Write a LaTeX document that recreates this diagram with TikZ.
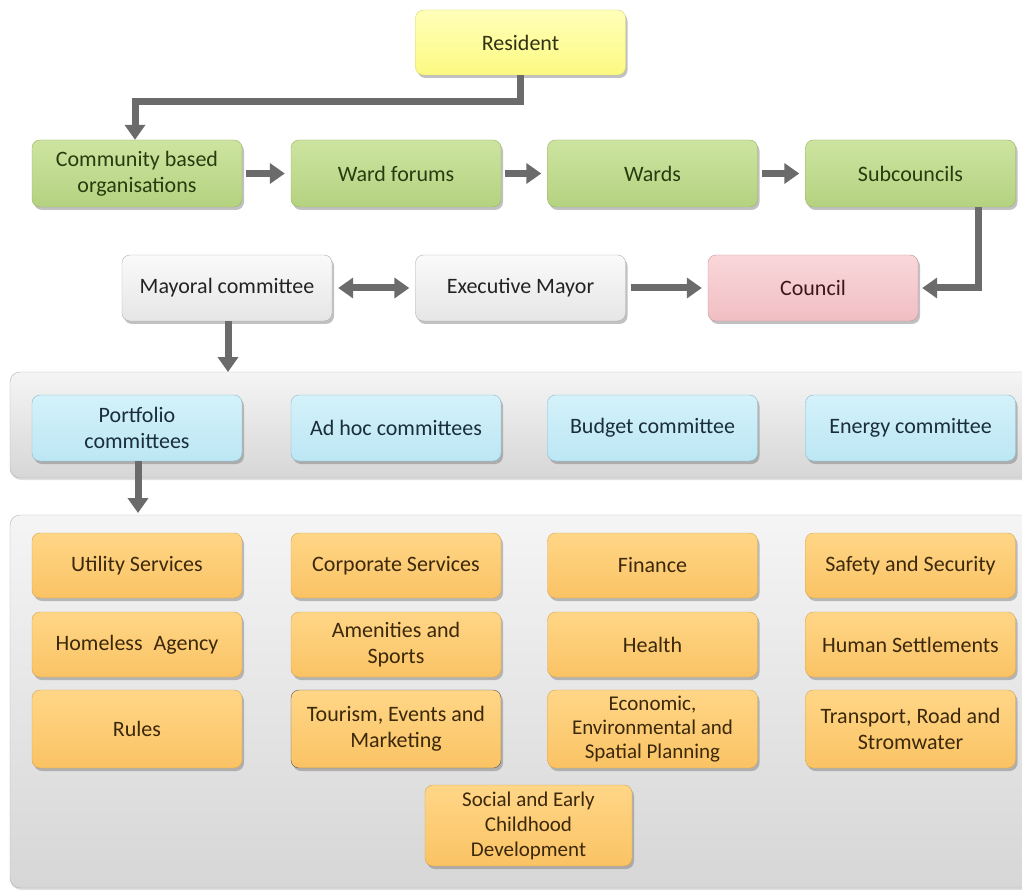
\documentclass[tikz,border=0pt]{standalone}
\usepackage{fontspec}
\setmainfont{Carlito}
\usetikzlibrary{arrows.meta,shadows}
\definecolor{arr}{HTML}{6B6B6B}
\tikzset{
  box/.style={rounded corners=8pt, minimum width=210pt, minimum height=65pt, align=center,
    font=\fontsize{22}{26}\selectfont, inner sep=2pt,
    drop shadow={shadow xshift=2pt, shadow yshift=-3pt, opacity=0.4, fill=black!60}},
  yel/.style={box, text={rgb,255:red,50;green,50;blue,20}, draw={rgb,255:red,215;green,215;blue,110}, top color={rgb,255:red,255;green,255;blue,185}, bottom color={rgb,255:red,252;green,250;blue,130}},
  grn/.style={box, text={rgb,255:red,40;green,60;blue,15}, draw={rgb,255:red,150;green,180;blue,100}, top color={rgb,255:red,205;green,228;blue,160}, bottom color={rgb,255:red,180;green,210;blue,128}},
  gry/.style={box, text={rgb,255:red,35;green,35;blue,35}, draw=gray!60, top color=gray!4, bottom color=gray!20},
  pnk/.style={box, text={rgb,255:red,60;green,25;blue,25}, draw={rgb,255:red,200;green,150;blue,155}, top color={rgb,255:red,250;green,215;blue,218}, bottom color={rgb,255:red,240;green,190;blue,195}},
  blu/.style={box, text={rgb,255:red,25;green,45;blue,60}, draw={rgb,255:red,140;green,185;blue,200}, top color={rgb,255:red,212;green,242;blue,250}, bottom color={rgb,255:red,188;green,230;blue,244}},
  org/.style={box, text={rgb,255:red,60;green,40;blue,10}, draw={rgb,255:red,215;green,165;blue,80}, top color={rgb,255:red,255;green,214;blue,135}, bottom color={rgb,255:red,250;green,195;blue,100}},
  panel/.style={rounded corners=10pt, draw=gray!60, top color=gray!8, bottom color=gray!32,
    drop shadow={shadow xshift=1pt, shadow yshift=-2pt, opacity=0.25}},
  link/.style={draw=arr, line width=7pt, -{Triangle[width=20pt,length=15pt]}},
  dlink/.style={draw=arr, line width=7pt, {Triangle[width=20pt,length=15pt]}-{Triangle[width=20pt,length=15pt]}},
}
\begin{document}
\begin{tikzpicture}[x=1pt,y=-1pt]
\useasboundingbox (0,0) rectangle (1022,890);
\fill[white] (0,0) rectangle (1022,890);
% panels
\path[panel] (10,372) rectangle (1040,478);
\path[panel] (10,515) rectangle (1040,888);
% top
\node[yel] (res) at (520.5,42.5) {Resident};
\node[grn, minimum height=67pt] (cbo) at (137,173.5) {Community based\\organisations};
\node[grn, minimum height=67pt] (wf) at (396,173.5) {Ward forums};
\node[grn, minimum height=67pt] (wards) at (652.5,173.5) {Wards};
\node[grn, minimum height=67pt] (sub) at (910.5,173.5) {Subcouncils};
\node[gry, minimum height=66pt] (may) at (227,288) {Mayoral committee};
\node[gry, minimum height=66pt] (exe) at (520.5,288) {Executive Mayor};
\node[pnk, minimum height=66pt] (cou) at (813,288) {Council};
% blue
\node[blu, minimum height=66pt] (port) at (137,428) {Portfolio\\committees};
\node[blu, minimum height=66pt] (adhoc) at (396,428) {Ad hoc committees};
\node[blu, minimum height=66pt] (bud) at (652.5,428) {Budget committee};
\node[blu, minimum height=66pt] (ene) at (910.5,428) {Energy committee};
% orange
\node[org] (util) at (137,565.5) {Utility Services};
\node[org] (corp) at (396,565.5) {Corporate Services};
\node[org] (fin) at (652.5,565.5) {Finance};
\node[org] (saf) at (910.5,565.5) {Safety and Security};
\node[org] (home) at (137,644.5) {Homeless\hspace{0.5em}Agency};
\node[org] (amen) at (396,644.5) {Amenities and\\Sports};
\node[org] (heal) at (652.5,644.5) {Health};
\node[org] (hum) at (910.5,644.5) {Human Settlements};
\node[org, minimum height=78pt] (rules) at (137,729) {Rules};
\node[org, minimum height=78pt, draw=gray!70!black] (tour) at (396,729) {Tourism, Events and\\Marketing};
\node[org, minimum height=78pt, font=\fontsize{21}{24}\selectfont] (econ) at (652.5,729) {Economic,\\Environmental and\\Spatial Planning};
\node[org, minimum height=78pt] (trans) at (910.5,729) {Transport, Road and\\Stromwater};
\node[org, minimum width=207pt, minimum height=81pt, font=\fontsize{21}{25}\selectfont] (soc) at (528.5,825.5) {Social and Early\\Childhood\\Development};
% connectors
\coordinate (r1) at (520,102);
\coordinate (r2) at (135,102);
\draw[link] (res.south -| r1) -- (r1) -- (r2) -- (r2 |- cbo.north);
\draw[link] (cbo.east) ++(4,0) -- ([xshift=-6pt]wf.west);
\draw[link] (wf.east) ++(4,0) -- ([xshift=-6pt]wards.west);
\draw[link] (wards.east) ++(4,0) -- ([xshift=-6pt]sub.west);
\coordinate (s1) at (978,288);
\draw[link] (sub.south -| s1) -- (s1) -- ([xshift=4pt]cou.east);
\draw[link] ([xshift=5pt]exe.east) -- ([xshift=-6pt]cou.west);
\draw[dlink] ([xshift=6pt]may.east) -- ([xshift=-6pt]exe.west);
\coordinate (m1) at (228,372);
\draw[link] (may.south -| m1) -- (m1);
\coordinate (p1) at (138,513);
\draw[link] (port.south -| p1) -- (p1);
\end{tikzpicture}
\end{document}
